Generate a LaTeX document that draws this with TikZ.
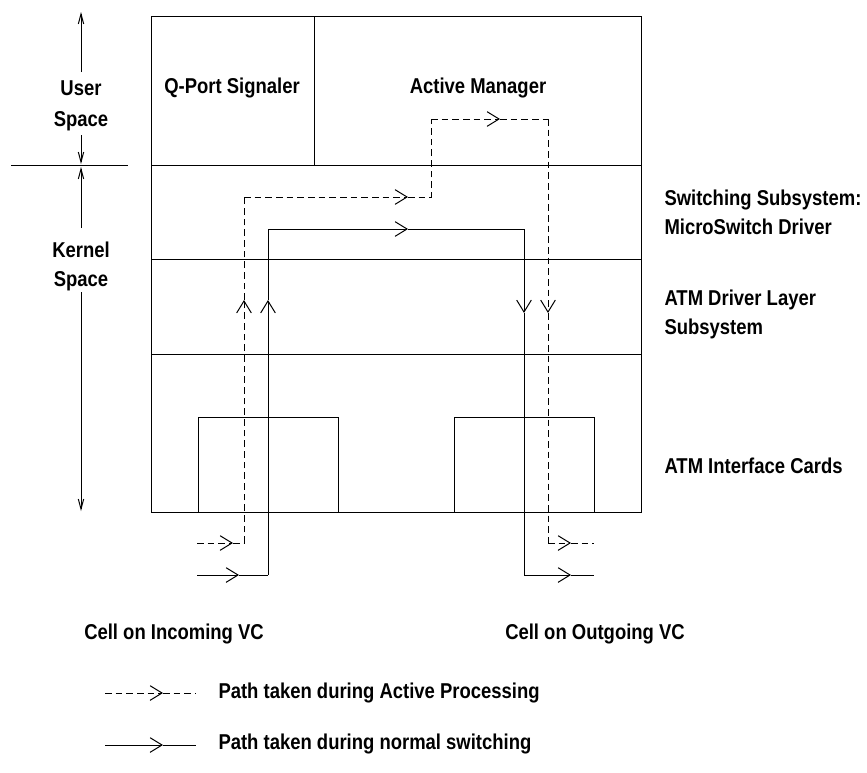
\documentclass[tikz,border=0pt]{standalone}
\usepackage{fontspec}
\setmainfont{Liberation Sans}[FakeStretch=0.86]
\usetikzlibrary{arrows.meta}
\begin{document}
\begin{tikzpicture}[x=0.75pt,y=-0.75pt,
  line width=0.75pt,
  lbl/.style={font=\fontsize{16.1}{18}\selectfont\bfseries, inner sep=0pt},
  barb/.style={-{Straight Barb[length=9pt,width=11pt]}},
  slimbarb/.style={-{Straight Barb[length=7.5pt,width=4pt]}},
  dpath/.style={dash pattern=on 5pt off 3pt},
]
\useasboundingbox (0,0) rectangle (867,772);

% ---- layered structure ----
\coordinate (boxTL) at (151,16);
\coordinate (boxBR) at (641,512);
\draw (boxTL) rectangle (boxBR);
\draw (151,165) -- (641,165);
\draw (151,259) -- (641,259);
\draw (151,354) -- (641,354);
\draw (314,16) -- (314,165);
% interface cards
\draw (198,512) |- (338,417) -- (338,512);
\draw (454,512) |- (594,417) -- (594,512);

% ---- user / kernel space markers ----
\draw (11,165) -- (128,165);
\draw[slimbarb] (81,72) -- (81,12);
\draw[slimbarb] (81,135) -- (81,164);
\draw[slimbarb] (81,228) -- (81,167);
\draw[slimbarb] (81,292) -- (81,511);
\node[lbl, anchor=base] (us1) at (81,95) {User};
\node[lbl, anchor=base] (us2) at (81,126) {Space};
\node[lbl, anchor=base] (ks1) at (81,257) {Kernel};
\node[lbl, anchor=base] (ks2) at (81,286) {Space};

% ---- labels inside and beside the layers ----
\node[lbl, anchor=base] (qport) at (232,93) {Q-Port Signaler};
\node[lbl, anchor=base] (amgr) at (478,93) {Active Manager};
\node[lbl, anchor=base west] (sw1) at (664,205) {Switching Subsystem:};
\node[lbl, anchor=base west] (sw2) at (664,234) {MicroSwitch Driver};
\node[lbl, anchor=base west] (atm1) at (664,305) {ATM Driver Layer};
\node[lbl, anchor=base west] (atm2) at (664,334) {Subsystem};
\node[lbl, anchor=base west] (cards) at (664,473) {ATM Interface Cards};
\node[lbl, anchor=base] (cin) at (174,639) {Cell on Incoming VC};
\node[lbl, anchor=base] (cout) at (595,639) {Cell on Outgoing VC};

% ---- path taken during active processing (dashed) ----
\coordinate (d0) at (197,543);
\coordinate (d0t) at (233,543);
\coordinate (d1) at (244,543);
\coordinate (d1t) at (244,300);
\coordinate (d2) at (244,197);
\coordinate (d2t) at (408,197);
\coordinate (d3) at (431,197);
\coordinate (d4) at (431,119);
\coordinate (d4t) at (500,119);
\coordinate (d5) at (548,119);
\coordinate (d5t) at (548,313);
\coordinate (d6) at (548,543);
\coordinate (d6t) at (571,543);
\coordinate (d7) at (594,543);
\draw[dpath, barb] (d0) -- (d0t);
\draw[dpath] (d0t) -- (d1);
\draw[dpath, barb] (d1) -- (d1t);
\draw[dpath] (d1t) -- (d2);
\draw[dpath, barb] (d2) -- (d2t);
\draw[dpath] (d2t) -- (d3) -- (d4);
\draw[dpath, barb] (d4) -- (d4t);
\draw[dpath] (d4t) -- (d5);
\draw[dpath, barb] (d5) -- (d5t);
\draw[dpath] (d5t) -- (d6);
\draw[dpath, barb] (d6) -- (d6t);
\draw[dpath] (d6t) -- (d7);

% ---- path taken during normal switching (solid) ----
\coordinate (s0) at (197,575);
\coordinate (s0t) at (239,575);
\coordinate (s1) at (268,575);
\coordinate (s1t) at (268,300);
\coordinate (s2) at (268,229);
\coordinate (s2t) at (408,229);
\coordinate (s3) at (524,229);
\coordinate (s3t) at (524,313);
\coordinate (s4) at (524,575);
\coordinate (s4t) at (571,575);
\coordinate (s5) at (594,575);
\draw[barb] (s0) -- (s0t);
\draw (s0t) -- (s1);
\draw[barb] (s1) -- (s1t);
\draw (s1t) -- (s2);
\draw[barb] (s2) -- (s2t);
\draw (s2t) -- (s3);
\draw[barb] (s3) -- (s3t);
\draw (s3t) -- (s4);
\draw[barb] (s4) -- (s4t);
\draw (s4t) -- (s5);

% ---- legend ----
\coordinate (la) at (105,693);
\coordinate (lat) at (163,693);
\coordinate (lb) at (196,693);
\draw[dpath, barb] (la) -- (lat);
\draw[dpath] (lat) -- (lb);
\node[lbl, anchor=base west] (lgd1) at (218,698) {Path taken during Active Processing};
\coordinate (lc) at (105,745);
\coordinate (lct) at (163,745);
\coordinate (ld) at (196,745);
\draw[barb] (lc) -- (lct);
\draw (lct) -- (ld);
\node[lbl, anchor=base west] (lgd2) at (218,749) {Path taken during normal switching};
\end{tikzpicture}
\end{document}
